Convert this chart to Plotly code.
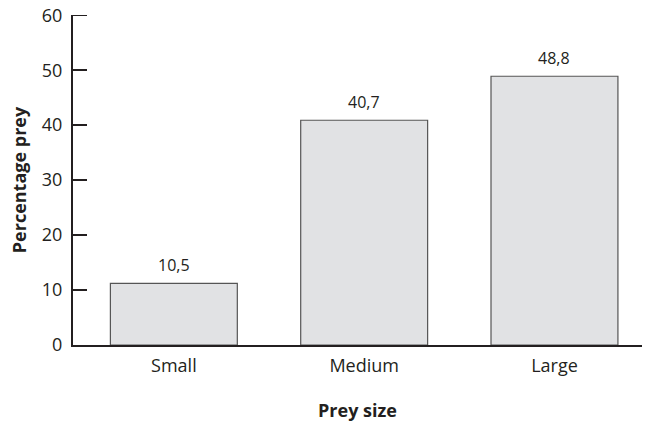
import plotly.graph_objects as go

categories = ["Small", "Medium", "Large"]
bar_heights = [11.2, 40.9, 48.9]
bar_labels = ["10,5", "40,7", "48,8"]
y_ticks = [0, 10, 20, 30, 40, 50, 60]

font_family = "Open Sans, Noto Sans, sans-serif"
ink = "#231f20"

fig = go.Figure()
fig.add_trace(go.Bar(
    x=categories, y=bar_heights,
    marker=dict(color="#e1e2e4", line=dict(color="#555555", width=1.2)),
    width=0.667,
))

# value labels above the bars
for cat, h, lab in zip(categories, bar_heights, bar_labels):
    fig.add_annotation(x=cat, y=h, text=lab, showarrow=False, yshift=18,
                       font=dict(size=16, color=ink, family=font_family))

# plotly drops the inside tick at the very top of the range, so draw it
fig.add_shape(type="line", xref="x domain", yref="y",
              x0=0, x1=14 / 569, y0=y_ticks[-1], y1=y_ticks[-1],
              line=dict(color=ink, width=1.5))

fig.update_layout(
    width=650, height=422,
    margin=dict(l=73, r=8, t=15, b=77),
    plot_bgcolor="white", paper_bgcolor="white",
    showlegend=False,
    font=dict(family=font_family, color=ink, size=18),
)
fig.update_xaxes(
    range=[-0.53, 2.46], showline=True, linecolor=ink, linewidth=2,
    ticks="", showgrid=False, ticklabelstandoff=3, automargin=False,
    title=dict(text="<b>Prey size</b>", font=dict(size=18), standoff=29),
)
fig.update_yaxes(
    range=[0, 60.05], tickvals=y_ticks, showline=True, linecolor=ink, linewidth=2,
    ticks="inside", ticklen=14, tickwidth=1.5, tickcolor=ink,
    showgrid=False, zeroline=False, ticklabelstandoff=5, automargin=False,
    title=dict(text="<b>Percentage prey</b>", font=dict(size=18), standoff=11),
)

# drop the default page margin so the figure sits at the window corner
fig.write_html("out.html", config={"displayModeBar": False},
               post_script="document.body.style.margin = '0';")
